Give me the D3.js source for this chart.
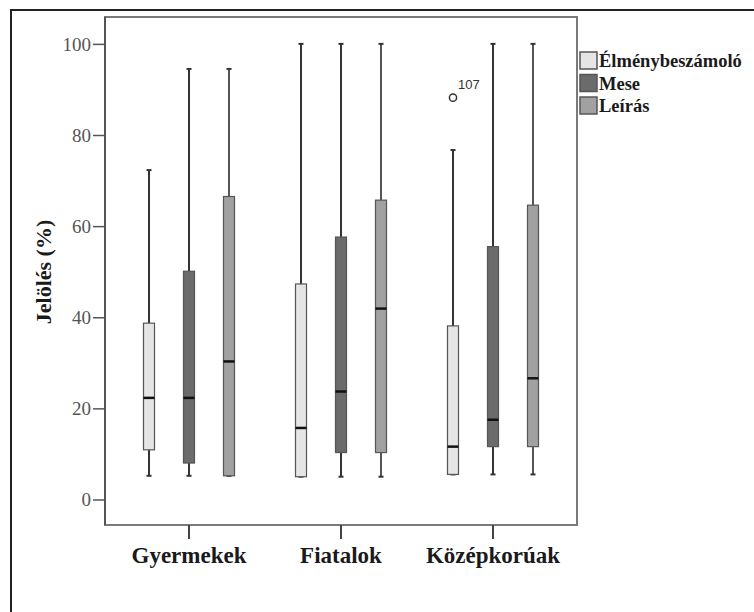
<!DOCTYPE html>
<html>
<head>
<meta charset="utf-8">
<script src="https://cdn.jsdelivr.net/npm/d3@7/dist/d3.min.js"></script>
<style>
  html, body { margin: 0; padding: 0; background: #fff; }
  svg { display: block; }
</style>
</head>
<body>
<script>
const categories = ["Gyermekek", "Fiatalok", "Középkorúak"];
const series = ["Élménybeszámoló", "Mese", "Leírás"];
const yTicks = [0, 20, 40, 60, 80, 100];
// [min, q1, median, q3, max] per category, per series
const elmenyStats = [[5.2, 10.9, 22.3, 38.7, 72.3], [5.0, 5.0, 15.7, 47.3, 100], [5.5, 5.5, 11.6, 38.1, 76.7]];
const meseStats   = [[5.2, 8.0, 22.3, 50.1, 94.5], [5.0, 10.3, 23.7, 57.6, 100], [5.5, 11.6, 17.5, 55.5, 100]];
const leirasStats = [[5.2, 5.2, 30.3, 66.5, 94.5], [5.0, 10.3, 41.9, 65.7, 100], [5.5, 11.6, 26.6, 64.6, 100]];
const outliers = [{cat: "Középkorúak", ser: "Élménybeszámoló", value: 88.2, label: "107"}];
const fills = ["#e5e5e5", "#6b6b6b", "#a1a1a1"];

const statsBySeries = [elmenyStats, meseStats, leirasStats];
const SERIF = "'Liberation Serif', 'Times New Roman', Times, serif";

const W = 754, H = 612;
const svg = d3.select("body").append("svg").attr("width", W).attr("height", H);

// outer frame
svg.append("rect").attr("x", 11).attr("y", 10).attr("width", 760).attr("height", 620)
  .attr("fill", "none").attr("stroke", "#222").attr("stroke-width", 2);

const plot = {left: 105, right: 577, top: 17, bottom: 525};

const y = d3.scaleLinear().domain([-5.6, 105.9]).range([plot.bottom, plot.top]);
const x = d3.scaleBand().domain(categories).range([113, 569]).padding(0);
const xs = d3.scalePoint().domain(series).range([-40, 40]);

// plot frame
svg.append("rect").attr("x", plot.left).attr("y", plot.top)
  .attr("width", plot.right - plot.left).attr("height", plot.bottom - plot.top)
  .attr("fill", "none").attr("stroke", "#7a7a7a").attr("stroke-width", 2);

// y axis
const yAxis = d3.axisLeft(y).tickValues(yTicks).tickSize(12).tickPadding(2);
const gy = svg.append("g").attr("transform", `translate(${plot.left},0)`).call(yAxis);
gy.select(".domain").remove();
gy.selectAll(".tick line").attr("stroke", "#555").attr("stroke-width", 1.5);
gy.selectAll(".tick text").attr("fill", "#555").style("font-family", SERIF)
  .style("font-size", "19px").attr("dy", "0.34em");
svg.append("line").attr("x1", plot.left).attr("x2", plot.left).attr("y1", plot.top).attr("y2", plot.bottom)
  .attr("stroke", "#555").attr("stroke-width", 2);

// x axis
const xAxis = d3.axisBottom(x).tickSize(14).tickPadding(8);
const gx = svg.append("g").attr("transform", `translate(0,${plot.bottom})`).call(xAxis);
gx.select(".domain").remove();
gx.selectAll(".tick line").attr("stroke", "#444").attr("stroke-width", 2);
gx.selectAll(".tick text").attr("fill", "#1a1a1a").style("font-family", SERIF)
  .style("font-size", "23px").style("font-weight", "bold");

// y title
svg.append("text").attr("transform", `translate(51,272) rotate(-90)`)
  .attr("text-anchor", "middle").style("font-family", SERIF)
  .style("font-size", "22px").style("font-weight", "bold").attr("fill", "#1a1a1a")
  .text("Jelölés (%)");

// boxes
const bw = 11, cap = 5;
series.forEach((s, si) => {
  categories.forEach((c, ci) => {
    const [mn, q1, md, q3, mx] = statsBySeries[si][ci];
    const cx = x(c) + x.bandwidth() / 2 + xs(s);
    const g = svg.append("g");
    const wc = si === 2 ? "#555" : "#333";
    g.append("line").attr("x1", cx).attr("x2", cx).attr("y1", y(mx)).attr("y2", y(q3))
      .attr("stroke", wc).attr("stroke-width", 2);
    g.append("line").attr("x1", cx).attr("x2", cx).attr("y1", y(q1)).attr("y2", y(mn))
      .attr("stroke", wc).attr("stroke-width", 2);
    g.append("line").attr("x1", cx - cap / 2).attr("x2", cx + cap / 2).attr("y1", y(mx)).attr("y2", y(mx))
      .attr("stroke", "#333").attr("stroke-width", 2);
    g.append("line").attr("x1", cx - cap / 2).attr("x2", cx + cap / 2).attr("y1", y(mn)).attr("y2", y(mn))
      .attr("stroke", "#333").attr("stroke-width", 2);
    g.append("rect").attr("x", cx - bw / 2).attr("y", y(q3)).attr("width", bw).attr("height", y(q1) - y(q3))
      .attr("fill", fills[si]).attr("stroke", "#555").attr("stroke-width", 1.2);
    g.append("line").attr("x1", cx - bw / 2).attr("x2", cx + bw / 2).attr("y1", y(md)).attr("y2", y(md))
      .attr("stroke", "#111").attr("stroke-width", 2.5);
  });
});

// outliers
outliers.forEach(o => {
  const cx = x(o.cat) + x.bandwidth() / 2 + xs(o.ser);
  svg.append("circle").attr("cx", cx).attr("cy", y(o.value)).attr("r", 3.6)
    .attr("fill", "none").attr("stroke", "#333").attr("stroke-width", 1.5);
  svg.append("text").attr("x", cx + 5).attr("y", y(o.value) - 9)
    .style("font-family", "'Liberation Sans', Arial, sans-serif").style("font-size", "13px")
    .attr("fill", "#333").text(o.label);
});

// legend
const leg = svg.append("g").attr("transform", "translate(580,52)");
series.forEach((s, i) => {
  const row = leg.append("g").attr("transform", `translate(0,${i * 22.5})`);
  row.append("rect").attr("x", 0).attr("y", 0).attr("width", 17).attr("height", 17)
    .attr("fill", fills[i]).attr("stroke", "#555").attr("stroke-width", 1.5);
  row.append("text").attr("x", 19).attr("y", 15)
    .style("font-family", SERIF).style("font-size", "18.5px").style("font-weight", "bold")
    .attr("fill", "#1a1a1a").text(s);
});
</script>
</body>
</html>
